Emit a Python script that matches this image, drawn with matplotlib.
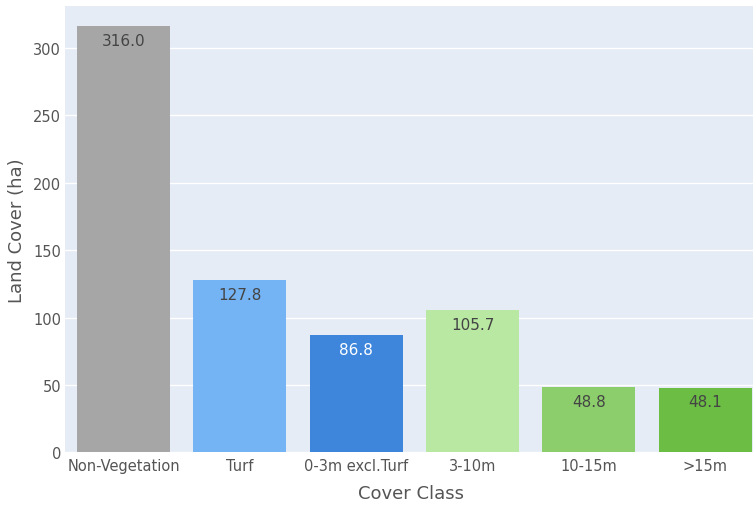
import matplotlib as mpl
import matplotlib.pyplot as plt
import numpy as np

plt.rcParams['font.family'] = ['DejaVu Sans']

classes = ['Non-Vegetation', 'Turf', '0-3m excl.Turf', '3-10m', '10-15m', '>15m']
area_ha = [316.0, 127.8, 86.8, 105.7, 48.8, 48.1]
bar_colors = ['#a6a6a6', '#74b3f4', '#3d86dc', '#b8e8a2', '#8ccd6c', '#6cbd44']
label_colors = ['#444444', '#444444', '#ffffff', '#444444', '#444444', '#444444']
yticks = [0, 50, 100, 150, 200, 250, 300]

fig = plt.figure(figsize=(7.53, 5.06), dpi=100)
ax = fig.add_axes([0.0869, 0.104, 1 - 0.0869, 0.882])
ax.set_facecolor('#e5ecf6')

pos = np.arange(len(classes))
bars = ax.bar(pos, area_ha, width=0.8, color=bar_colors, zorder=2)

# value labels inside the top of each bar
for b, v, c in zip(bars, area_ha, label_colors):
    ax.annotate(f'{v:.1f}', (b.get_x() + b.get_width() / 2, v),
                xytext=(0, -5), textcoords='offset points',
                ha='center', va='top', fontsize=11, color=c, zorder=3)

ax.set_xlim(-0.5, 5.41)
ax.set_ylim(0, 331)
ax.set_yticks(yticks)
ax.set_xticks(pos)
ax.set_xticklabels(classes)
ax.grid(axis='y', color='white', linewidth=1, zorder=1)
ax.tick_params(length=0, labelsize=10.5, colors='#555555')
ax.tick_params(axis='x', pad=4)
ax.tick_params(axis='y', pad=3)
for s in ax.spines.values():
    s.set_visible(False)

ax.set_xlabel('Cover Class', fontsize=13, color='#555555')
ax.set_ylabel('Land Cover (ha)', fontsize=13, color='#555555')
ax.xaxis.set_label_coords(0.5026, -0.07)
ax.yaxis.set_label_coords(-0.057, 0.5)

fig.savefig('out.png', dpi=100)
